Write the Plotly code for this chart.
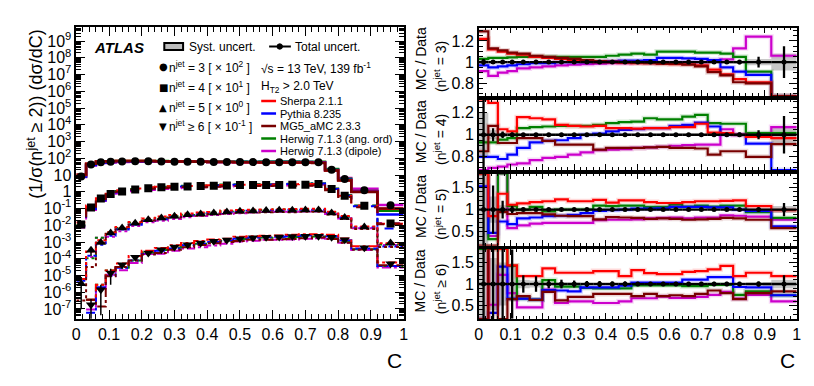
import numpy as np
import plotly.graph_objects as go

W, H = 814, 386
FONT = "Liberation Sans, Arial, Helvetica, sans-serif"

# ---------------------------------------------------------------- data
C_EDGES = [0.00, 0.03, 0.06, 0.09, 0.12, 0.16, 0.20, 0.24, 0.28, 0.32, 0.36, 0.40,
           0.44, 0.48, 0.52, 0.56, 0.60, 0.64, 0.68, 0.72, 0.76, 0.80, 0.84, 0.92, 1.00]

NJET_LABELS = ["= 3", "= 4", "= 5", "≥ 6"]
NJET_SCALE = [100, 10, 1, 0.1]
NJET_SCALE_TXT = ["2", "1", "0", "-1"]

# normalised cross sections (1/sigma dsigma/dC), unscaled
data_n3 = [0.083, 0.42, 0.575, 0.62, 0.645, 0.66, 0.66, 0.645, 0.63, 0.63, 0.62, 0.60,
           0.60, 0.59, 0.59, 0.575, 0.575, 0.575, 0.575, 0.575, 0.21, 0.058, 0.0123, 0.00155]
data_n4 = [0.0011, 0.0117, 0.039, 0.074, 0.105, 0.138, 0.162, 0.186, 0.20, 0.209, 0.219, 0.229,
           0.24, 0.251, 0.251, 0.251, 0.257, 0.263, 0.263, 0.288, 0.145, 0.0575, 0.0148, 0.00126]
data_n5 = [3.2e-6, 3.2e-4, 9.5e-4, 0.0035, 0.0069, 0.0132, 0.0214, 0.027, 0.034, 0.043, 0.047, 0.054,
           0.062, 0.068, 0.072, 0.076, 0.078, 0.079, 0.081, 0.081, 0.054, 0.0295, 0.0079, 0.00087]
data_n6 = [float("nan"), 1.8e-6, 1.4e-5, 1.4e-4, 4.4e-4, 1.23e-3, 2.2e-3, 3.5e-3, 5.0e-3, 6.9e-3, 8.7e-3, 0.011,
           0.0132, 0.0158, 0.0178, 0.019, 0.020, 0.021, 0.022, 0.022, 0.019, 0.0138, 0.0045, 0.0005]

# total relative uncertainty of the data
err_n3 = [0.03, 0.015, 0.01, 0.01, 0.01, 0.01, 0.01, 0.01, 0.01, 0.01, 0.01, 0.01,
          0.01, 0.01, 0.01, 0.01, 0.01, 0.01, 0.01, 0.012, 0.015, 0.02, 0.05, 0.15]
err_n4 = [0.4, 0.06, 0.03, 0.02, 0.015, 0.012, 0.01, 0.01, 0.01, 0.01, 0.01, 0.01,
          0.01, 0.01, 0.01, 0.01, 0.01, 0.01, 0.01, 0.012, 0.015, 0.02, 0.04, 0.17]
err_n5 = [1.5, 0.55, 0.2, 0.08, 0.04, 0.03, 0.025, 0.02, 0.02, 0.02, 0.02, 0.02,
          0.02, 0.02, 0.02, 0.02, 0.02, 0.02, 0.02, 0.02, 0.02, 0.025, 0.04, 0.15]
err_n6 = [1.5, 1.2, 1.0, 0.8, 0.2, 0.18, 0.1, 0.1, 0.08, 0.07, 0.07, 0.06,
          0.06, 0.05, 0.05, 0.05, 0.05, 0.05, 0.05, 0.05, 0.05, 0.05, 0.06, 0.2]

# systematic relative uncertainty of the data
syst_n3 = [0.02, 0.01, 0.008, 0.008, 0.008, 0.008, 0.008, 0.008, 0.008, 0.008, 0.008, 0.008,
           0.008, 0.008, 0.008, 0.008, 0.008, 0.008, 0.008, 0.01, 0.012, 0.015, 0.03, 0.08]
syst_n4 = [0.2, 0.04, 0.02, 0.015, 0.012, 0.01, 0.008, 0.008, 0.008, 0.008, 0.008, 0.008,
           0.008, 0.008, 0.008, 0.008, 0.008, 0.008, 0.008, 0.01, 0.012, 0.015, 0.03, 0.08]
syst_n5 = [0.8, 0.3, 0.1, 0.05, 0.03, 0.02, 0.02, 0.015, 0.015, 0.015, 0.015, 0.015,
           0.015, 0.015, 0.015, 0.015, 0.015, 0.015, 0.015, 0.015, 0.015, 0.02, 0.03, 0.08]
syst_n6 = [0.8, 0.6, 0.5, 0.4, 0.1, 0.08, 0.05, 0.04, 0.04, 0.03, 0.03, 0.03,
           0.03, 0.03, 0.03, 0.03, 0.03, 0.03, 0.03, 0.03, 0.03, 0.03, 0.04, 0.1]

MC_NAMES = ["Sherpa 2.1.1", "Pythia 8.235", "MG5_aMC 2.3.3",
            "Herwig 7.1.3 (ang. ord)", "Herwig 7.1.3 (dipole)"]
MC_COLORS = ["#ff0000", "#0000ff", "#780000", "#008000", "#cc00cc"]
DRAW_ORDER = [4, 3, 1, 0, 2]

# MC / Data ratios, n_jet = 3
sherpa_n3 = [1.22, 1.12, 1.10, 1.08, 1.07, 1.05, 1.04, 1.03, 1.02, 1.01, 1.00, 1.00,
             0.995, 0.99, 0.99, 0.985, 0.98, 0.98, 0.97, 0.93, 0.885, 0.84, 0.81, 0.62]
pythia_n3 = [0.97, 0.95, 0.96, 0.97, 0.98, 0.99, 0.99, 1.00, 1.00, 1.00, 1.00, 1.01,
             1.015, 1.015, 1.02, 1.04, 1.04, 1.035, 1.03, 1.02, 0.95, 0.91, 0.88, 0.28]
mg5_n3 = [1.29, 1.13, 1.11, 1.09, 1.08, 1.06, 1.05, 1.04, 1.03, 1.02, 1.01, 1.005,
          1.0, 0.995, 0.99, 0.985, 0.985, 0.975, 0.96, 0.905, 0.875, 0.81, 0.80, 0.65]
hwang_n3 = [1.03, 1.04, 1.04, 1.045, 1.05, 1.05, 1.05, 1.05, 1.05, 1.05, 1.05, 1.06,
            1.07, 1.08, 1.07, 1.10, 1.10, 1.10, 1.09, 1.09, 1.08, 1.05, 0.91, 0.48]
hwdip_n3 = [0.915, 0.87, 0.90, 0.915, 0.94, 0.95, 0.96, 0.97, 0.975, 0.98, 0.985, 0.99,
            0.99, 0.995, 0.995, 1.0, 1.0, 1.0, 1.0, 1.01, 1.025, 1.13, 1.24, 1.06]

# n_jet = 4
sherpa_n4 = [1.35, 1.29, 1.05, 1.03, 1.16, 1.15, 1.14, 1.09, 1.08, 1.075, 1.08, 1.06,
             1.06, 1.055, 1.06, 1.06, 1.07, 1.07, 1.10, 1.02, 1.015, 1.0, 0.98, 0.97]
pythia_n4 = [0.80, 0.80, 0.78, 0.82, 0.88, 0.93, 0.945, 0.95, 0.97, 1.0, 1.01, 1.03,
             1.045, 1.05, 1.06, 1.06, 1.08, 1.09, 1.11, 1.075, 1.0, 1.0, 0.92, 0.5]
mg5_n4 = [0.85, 1.08, 0.925, 0.925, 0.97, 0.97, 0.945, 0.91, 0.91, 0.91, 0.865, 0.88,
          0.88, 0.88, 0.885, 0.89, 0.88, 0.88, 0.875, 0.82, 0.85, 0.85, 0.80, 0.915]
hwang_n4 = [0.93, 0.93, 0.955, 0.97, 1.06, 1.07, 1.075, 1.08, 1.08, 1.08, 1.09, 1.105,
            1.115, 1.12, 1.15, 1.14, 1.14, 1.165, 1.18, 1.105, 1.10, 1.10, 1.015, 1.015]
hwdip_n4 = [0.66, 0.70, 0.71, 0.73, 0.74, 0.77, 0.79, 0.80, 0.82, 0.84, 0.86, 0.865,
            0.87, 0.88, 0.885, 0.89, 0.90, 0.905, 0.91, 0.91, 1.05, 1.0, 0.995, 1.07]

# n_jet = 5
sherpa_n5 = [1.9, 0.85, 1.36, 1.11, 1.14, 1.17, 1.19, 1.23, 1.19, 1.19, 1.22, 1.16,
             1.21, 1.21, 1.17, 1.15, 1.15, 1.17, 1.19, 1.19, 1.20, 1.21, 1.08, 0.985]
pythia_n5 = [1.53, 0.47, 0.73, 0.67, 0.80, 0.82, 0.85, 0.86, 0.88, 0.92, 0.97, 0.99,
             1.0, 1.02, 1.02, 1.03, 1.06, 1.06, 1.06, 1.05, 1.05, 1.0, 0.97, 0.62]
mg5_n5 = [0.1, 0.1, 0.95, 0.90, 0.92, 0.92, 0.89, 0.86, 0.85, 0.85, 0.78, 0.83,
          0.82, 0.81, 0.79, 0.80, 0.79, 0.77, 0.78, 0.79, 0.81, 0.80, 0.77, 0.58]
hwang_n5 = [1.9, 0.33, 1.9, 1.08, 1.0, 1.06, 0.96, 1.0, 1.0, 1.0, 1.09, 1.08,
            1.09, 1.09, 1.06, 1.06, 1.11, 1.07, 1.09, 1.07, 1.09, 1.09, 0.94, 0.81]
hwdip_n5 = [1.9, 0.40, 1.9, 0.58, 0.64, 0.68, 0.70, 0.70, 0.70, 0.70, 0.76, 0.77,
            0.77, 0.78, 0.80, 0.81, 0.82, 0.80, 0.82, 0.82, 0.87, 0.86, 0.84, 0.77]

# n_jet >= 6
sherpa_n6 = [0.1, 2.0, 2.0, 1.43, 1.18, 1.18, 1.36, 1.26, 1.26, 1.26, 1.30, 1.30,
             1.18, 1.32, 1.25, 1.23, 1.23, 1.28, 1.30, 1.34, 1.42, 1.18, 1.26, 1.18]
pythia_n6 = [0.1, 0.33, 1.40, 0.66, 0.66, 0.64, 0.86, 0.85, 0.83, 0.92, 0.92, 0.92,
             0.96, 1.03, 1.03, 1.03, 1.03, 1.10, 1.10, 1.16, 1.16, 0.93, 0.92, 0.74]
mg5_n6 = [0.1, 2.0, 0.1, 0.65, 0.72, 0.63, 0.82, 0.62, 0.70, 0.70, 0.77, 0.77,
          0.77, 0.72, 0.77, 0.72, 0.74, 0.72, 0.77, 0.85, 0.79, 0.65, 0.79, 0.83]
hwang_n6 = [2.0, 2.0, 2.0, 1.42, 0.66, 0.64, 1.09, 0.94, 0.94, 0.91, 0.90, 0.90,
            0.90, 0.97, 0.97, 0.97, 0.97, 0.95, 0.95, 0.98, 0.98, 0.75, 0.83, 0.74]
hwdip_n6 = [2.0, 0.52, 1.21, 0.79, 0.46, 0.46, 0.87, 0.56, 0.60, 0.60, 0.56, 0.56,
            0.60, 0.67, 0.67, 0.71, 0.68, 0.68, 0.70, 0.75, 0.82, 0.66, 0.75, 0.60]

DATA = [data_n3, data_n4, data_n5, data_n6]
ERRS = [err_n3, err_n4, err_n5, err_n6]
SYSTS = [syst_n3, syst_n4, syst_n5, syst_n6]
RATIOS = [[sherpa_n3, pythia_n3, mg5_n3, hwang_n3, hwdip_n3],
          [sherpa_n4, pythia_n4, mg5_n4, hwang_n4, hwdip_n4],
          [sherpa_n5, pythia_n5, mg5_n5, hwang_n5, hwdip_n5],
          [sherpa_n6, pythia_n6, mg5_n6, hwang_n6, hwdip_n6]]

# ---------------------------------------------------------------- geometry / styles
LEFT_X = (65, 396)
LEFT_Y = (19, 310.7)
RIGHT_X = (472, 793.5)
RATIO_Y = [(19.7, 88), (91.5, 162), (165.5, 237.7), (241, 311)]
RATIO_RANGE = [(0.68, 1.325), (0.68, 1.32), (0.18, 1.82), (0.19, 1.81)]
RATIO_DTICK = [0.2, 0.2, 0.5, 0.5]
RATIO_MINOR = [0.05, 0.05, 0.1, 0.1]
MARKERS = ["circle", "square", "triangle-up", "triangle-down"]
MARKER_SIZE = [8, 8, 9, 9]
DASHES = ["solid", "dash", "dot", "dashdot"]


def fx(px):
    return px / W


def fy(py):
    return 1 - py / H


edges = np.array(C_EDGES)
centers = 0.5 * (edges[:-1] + edges[1:])
halfw = 0.5 * (edges[1:] - edges[:-1])


def step(vals):
    v = np.asarray(vals, dtype=float)
    return np.append(v, v[-1])


def rgba(hexcol, a):
    h = hexcol.lstrip("#")
    return "rgba(%d,%d,%d,%.2f)" % (int(h[0:2], 16), int(h[2:4], 16), int(h[4:6], 16), a)


fig = go.Figure()

# ---------------------------------------------------------------- left panel
for k in range(4):
    d = np.array(DATA[k], dtype=float) * NJET_SCALE[k]
    for m in DRAW_ORDER:
        mc = d * np.array(RATIOS[k][m])
        fig.add_trace(go.Scatter(
            x=edges, y=step(mc), mode="lines", line_shape="hv",
            line=dict(color=MC_COLORS[m], width=2.5 if k == 0 else 2, dash=DASHES[k]),
            xaxis="x", yaxis="y", showlegend=False, hoverinfo="skip"))
for k in range(4):
    d = np.array(DATA[k], dtype=float) * NJET_SCALE[k]
    e = np.array(ERRS[k])
    fig.add_trace(go.Scatter(
        x=centers, y=d, mode="markers",
        marker=dict(symbol=MARKERS[k], size=MARKER_SIZE[k], color="black"),
        error_y=dict(type="data", array=d * e, arrayminus=d * np.minimum(e, 0.97),
                     color="black", thickness=1.5, width=0),
        xaxis="x", yaxis="y", showlegend=False, hoverinfo="skip"))

# ---------------------------------------------------------------- ratio panels
for k in range(4):
    xa, ya = "x%d" % (k + 2), "y%d" % (k + 2)
    lo, hi = RATIO_RANGE[k]
    s = np.array(SYSTS[k])
    fig.add_trace(go.Scatter(x=edges, y=step(1 - s), mode="lines", line_shape="hv",
                             line=dict(width=0, color="#c8c8c8"), xaxis=xa, yaxis=ya,
                             showlegend=False, hoverinfo="skip"))
    fig.add_trace(go.Scatter(x=edges, y=step(1 + s), mode="lines", line_shape="hv",
                             line=dict(width=0, color="#c8c8c8"), fill="tonexty",
                             fillcolor="#c8c8c8", xaxis=xa, yaxis=ya,
                             showlegend=False, hoverinfo="skip"))
    for m in DRAW_ORDER:
        r = np.clip(np.array(RATIOS[k][m]), lo, hi)
        fig.add_trace(go.Scatter(x=edges, y=step(r), mode="lines", line_shape="hv",
                                 line=dict(color=rgba(MC_COLORS[m], 0.15), width=5),
                                 xaxis=xa, yaxis=ya, showlegend=False, hoverinfo="skip"))
        fig.add_trace(go.Scatter(x=edges, y=step(r), mode="lines", line_shape="hv",
                                 line=dict(color=MC_COLORS[m], width=2.2),
                                 xaxis=xa, yaxis=ya, showlegend=False, hoverinfo="skip"))
    one = np.ones_like(centers)
    e = np.array(ERRS[k])
    fig.add_trace(go.Scatter(
        x=centers, y=one, mode="markers",
        marker=dict(symbol="circle", size=5, color="black"),
        error_y=dict(type="data", array=e, color="black", thickness=2.3, width=0),
        error_x=dict(type="data", array=halfw, color="black", thickness=2.3, width=0),
        xaxis=xa, yaxis=ya, showlegend=False, hoverinfo="skip"))


# ---------------------------------------------------------------- axes
def base_axis(**kw):
    a = dict(showline=True, linecolor="black", linewidth=1.5, mirror="allticks",
             ticks="inside", ticklen=9, tickwidth=1.2, tickcolor="black",
             showgrid=False, zeroline=False,
             tickfont=dict(family=FONT, size=16, color="black"))
    a.update(kw)
    return a


minor_log = [m * 10.0 ** p for p in range(-8, 10) for m in range(2, 10)]
major_log = [10.0 ** p for p in range(-7, 10)]
major_txt = []
for p in range(-7, 10):
    if p == 0:
        major_txt.append("1")
    elif p == 1:
        major_txt.append("10")
    else:
        major_txt.append("10<sup>%s</sup>" % (str(p) if p > 0 else "-%d" % -p))

layout = dict(
    width=W, height=H, margin=dict(l=0, r=0, t=0, b=0),
    paper_bgcolor="white", plot_bgcolor="white", showlegend=False,
    font=dict(family=FONT, color="black"),
    xaxis=base_axis(domain=[fx(LEFT_X[0]), fx(LEFT_X[1])], range=[0, 1], dtick=0.1, tick0=0,
                    minor=dict(dtick=0.02, tick0=0, ticks="inside", ticklen=5, tickcolor="black",
                               showgrid=False),
                    anchor="y"),
    yaxis=base_axis(domain=[fy(LEFT_Y[1]), fy(LEFT_Y[0])], type="log", range=[-7.58, 9.84],
                    tickmode="array", tickvals=major_log, ticktext=major_txt,
                    minor=dict(tickmode="array", tickvals=minor_log, ticks="inside", ticklen=5,
                               tickcolor="black", showgrid=False),
                    anchor="x"),
)
for k in range(4):
    xa, ya = "xaxis%d" % (k + 2), "yaxis%d" % (k + 2)
    top, bot = RATIO_Y[k]
    layout[xa] = base_axis(domain=[fx(RIGHT_X[0]), fx(RIGHT_X[1])], range=[0, 1], dtick=0.1,
                           tick0=0, ticklen=6, showticklabels=(k == 3),
                           minor=dict(dtick=0.02, tick0=0, ticks="inside", ticklen=3,
                                      tickcolor="black", showgrid=False),
                           anchor="y%d" % (k + 2))
    layout[ya] = base_axis(domain=[fy(bot), fy(top)], range=list(RATIO_RANGE[k]),
                           dtick=RATIO_DTICK[k], tick0=0, ticklen=8,
                           minor=dict(dtick=RATIO_MINOR[k], tick0=0, ticks="inside", ticklen=4,
                                      tickcolor="black", showgrid=False),
                           anchor="x%d" % (k + 2))

fig.update_layout(**layout)

# ---------------------------------------------------------------- texts / legend
ann = []
shapes = []


def text(x, y, s, size=12, xanchor="left", angle=0, family=FONT):
    ann.append(dict(x=fx(x), y=fy(y), xref="paper", yref="paper", text=s, showarrow=False,
                    xanchor=xanchor, yanchor="middle", textangle=angle,
                    font=dict(family=family, size=size, color="black")))


# axis titles
text(24, 106, "(1/σ(n<sup>jet</sup> ≥ 2)) (dσ/dC)", size=18, xanchor="center", angle=-90)
text(396, 352, "C", size=21, xanchor="right")
text(794, 352, "C", size=21, xanchor="right")
for k in range(4):
    top, bot = RATIO_Y[k]
    yc = 0.5 * (top + bot)
    text(413, yc - 3, "MC / Data", size=14, xanchor="center", angle=-90)
    text(433, yc + 5, "(n<sup>jet</sup> %s)" % NJET_LABELS[k], size=14, xanchor="center", angle=-90)

# ATLAS + uncertainty legend
text(81, 39, "<b><i>ATLAS</i></b>", size=15)
shapes.append(dict(type="rect", xref="paper", yref="paper", x0=fx(154), x1=fx(173),
                   y0=fy(42), y1=fy(35), fillcolor="#bdbdbd", line=dict(color="black", width=2)))
text(177, 38.5, "Syst. uncert.", size=12)
shapes.append(dict(type="line", xref="paper", yref="paper", x0=fx(260), x1=fx(282),
                   y0=fy(38.5), y1=fy(38.5), line=dict(color="black", width=2)))
shapes.append(dict(type="circle", xref="paper", yref="paper", x0=fx(268), x1=fx(273.5),
                   y0=fy(41.2), y1=fy(35.8), fillcolor="black", line=dict(color="black", width=1)))
text(284, 38.5, "Total uncert.", size=12)

# n_jet legend
sym = ["●", "■", "▲", "▼"]
for k, yy in enumerate([59, 79, 99, 118.5]):
    text(147, yy, sym[k], size=10, family="DejaVu Sans")
    text(157, yy, "n<sup>jet</sup> %s [ × 10<sup>%s</sup> ]" % (NJET_LABELS[k], NJET_SCALE_TXT[k]),
         size=12)

text(250, 60, "√s = 13 TeV, 139 fb<sup>-1</sup>", size=12)
text(250, 79, "H<sub>T2</sub> > 2.0 TeV", size=12)

for m, yy in enumerate([93, 105.5, 118, 130.5, 143]):
    shapes.append(dict(type="line", xref="paper", yref="paper", x0=fx(252), x1=fx(267),
                       y0=fy(yy), y1=fy(yy), line=dict(color=MC_COLORS[m], width=2.5)))
    text(269, yy, MC_NAMES[m], size=11)

fig.update_layout(annotations=ann, shapes=shapes)
fig.write_html("out.html")
